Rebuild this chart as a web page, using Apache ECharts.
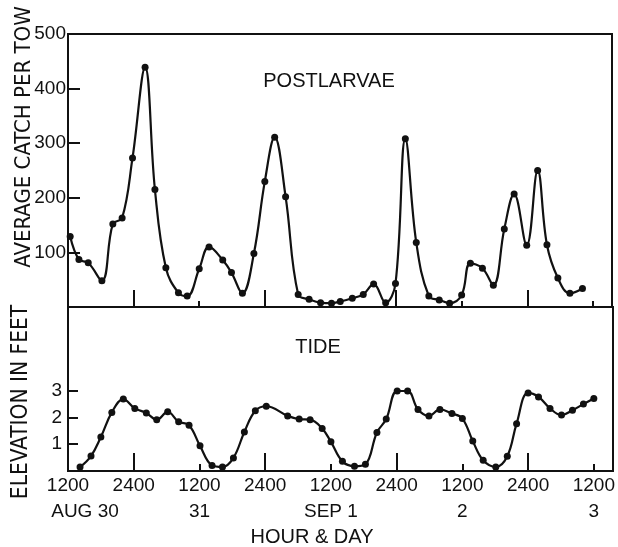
<!DOCTYPE html>
<html>
<head>
<meta charset="utf-8">
<script src="https://cdn.jsdelivr.net/npm/echarts@6/dist/echarts.min.js"></script>
<style>
  html, body { margin: 0; padding: 0; background: #fff; }
  #chart { width: 618px; height: 547px; }
</style>
</head>
<body>
<div id="chart"></div>
<script>
// Hours after 1200 on Aug 30 at which each tow was taken, with its catch
const larvaeHours = [0.4, 2.0, 3.7, 6.2, 8.2, 9.9, 11.8, 14.1, 15.9, 17.9,
  20.2, 21.8, 24.0, 25.8, 28.3, 29.9, 31.9, 34.0, 36.0, 37.8,
  39.8, 42.1, 44.1, 46.2, 48.2, 49.8, 52.0, 54.0, 55.9, 58.1,
  59.9, 61.7, 63.7, 66.0, 67.9, 69.8, 72.0, 73.6, 75.8, 77.8,
  79.8, 81.6, 83.9, 85.9, 87.6, 89.6, 91.8, 94.1];
const larvaeCatch = [129, 87, 81, 48, 152, 163, 273, 439, 215, 72,
  26, 20, 70, 110, 86, 63, 25, 98, 230, 311,
  202, 23, 14, 8, 7, 10, 16, 23, 42, 8,
  43, 308, 118, 20, 13, 7, 22, 80, 71, 40,
  143, 207, 113, 250, 114, 53, 25, 34];

// Tide height readings (feet)
const tideHours = [2.2, 4.2, 6.0, 8.0, 10.1, 12.2, 14.3, 16.2, 18.2, 20.2,
  22.1, 24.1, 26.3, 28.2, 30.2, 32.2, 34.2, 36.2, 40.1, 42.2,
  44.2, 46.4, 48.0, 50.1, 52.3, 54.3, 56.4, 58.1, 60.1, 62.0,
  63.9, 65.9, 67.9, 70.1, 72.0, 73.9, 75.8, 78.1, 80.2, 81.9,
  84.0, 85.9, 88.0, 90.1, 92.1, 94.1, 96.0];
const tideFeet = [0.15, 0.56, 1.27, 2.19, 2.69, 2.34, 2.17, 1.92, 2.21, 1.84,
  1.71, 0.94, 0.21, 0.15, 0.49, 1.46, 2.25, 2.42, 2.06, 1.94,
  1.92, 1.59, 1.09, 0.36, 0.18, 0.25, 1.44, 1.94, 2.99, 2.99,
  2.30, 2.06, 2.30, 2.15, 1.96, 1.12, 0.40, 0.15, 0.55, 1.77,
  2.92, 2.77, 2.34, 2.09, 2.27, 2.50, 2.71];

// Axis ticks and labels
const hourTicks = [0, 12, 24, 36, 48, 60, 72, 84, 96];
const hourLabels = ['1200', '2400', '1200', '2400', '1200', '2400', '1200', '2400', '1200'];
const midnightTicks = [12, 36, 60, 84];
const noonTicks = [24, 48, 72, 96];
const dayTicks = [0, 24, 48, 72, 96];
const dayLabels = ['AUG 30', '31', 'SEP 1', '2', '3'];
const catchTicks = [100, 200, 300, 400, 500];
const tideTicks = [1, 2, 3];

const INK = '#111';
const TICK_FONT = { color: INK, fontFamily: 'Liberation Sans, Arial, sans-serif', fontSize: 19 };
const NARROW = '"Liberation Sans Narrow", "DejaVu Sans Condensed", "Liberation Sans", sans-serif';
const X_MAX = 99.5;

const zip = (xs, ys) => xs.map((x, i) => [x, ys[i]]);

function hourAxis(gridIndex, ticks, len, extra) {
  return Object.assign({
    type: 'value', gridIndex, position: 'bottom', min: 0, max: X_MAX,
    axisLine: { show: false },
    axisTick: { show: true, inside: true, length: len, customValues: ticks,
                lineStyle: { color: INK, width: 2 } },
    axisLabel: { show: false },
    splitLine: { show: false }
  }, extra || {});
}

const chart = echarts.init(document.getElementById('chart'), null, { renderer: 'canvas' });

chart.setOption({
  animation: false,
  backgroundColor: '#fff',
  grid: [
    { left: 68, top: 34, right: 6, height: 273, show: true, borderColor: INK, borderWidth: 2 },
    { left: 68, top: 307, right: 5, height: 164, show: true, borderColor: INK, borderWidth: 2 }
  ],
  xAxis: [
    hourAxis(0, midnightTicks, 17),
    hourAxis(0, noonTicks, 6),
    hourAxis(1, midnightTicks, 18, {
      axisLabel: {
        show: true, margin: 5, customValues: hourTicks,
        formatter: v => hourLabels[hourTicks.indexOf(v)],
        ...TICK_FONT
      }
    }),
    hourAxis(1, noonTicks, 7),
    hourAxis(1, [], 0, {
      offset: 26,
      axisTick: { show: false },
      axisLabel: {
        show: true, margin: 5, customValues: dayTicks,
        formatter: v => {
          const t = dayLabels[dayTicks.indexOf(v)];
          return v === 0 ? '{first|' + t + '}' : t;
        },
        rich: { first: { padding: [0, 0, 0, 34], ...TICK_FONT } },
        ...TICK_FONT
      }
    })
  ],
  yAxis: [
    {
      type: 'value', gridIndex: 0, min: 0, max: 500,
      axisLine: { show: true, lineStyle: { color: INK, width: 2 } },
      axisTick: { show: true, inside: true, length: 12, customValues: catchTicks,
                  lineStyle: { color: INK, width: 2 } },
      axisLabel: { margin: 2, customValues: catchTicks, ...TICK_FONT },
      splitLine: { show: false }
    },
    {
      type: 'value', gridIndex: 1, min: 0, max: 6.13,
      axisLine: { show: true, lineStyle: { color: INK, width: 2 } },
      axisTick: { show: true, inside: true, length: 10, customValues: tideTicks,
                  lineStyle: { color: INK, width: 2 } },
      axisLabel: { margin: 6, customValues: tideTicks, ...TICK_FONT },
      splitLine: { show: false }
    }
  ],
  series: [
    {
      name: 'Postlarvae', type: 'line', xAxisIndex: 0, yAxisIndex: 0,
      data: zip(larvaeHours, larvaeCatch),
      smooth: 0.4, showAllSymbol: true,
      symbol: 'circle', symbolSize: 7,
      itemStyle: { color: INK },
      lineStyle: { color: INK, width: 2.2 }
    },
    {
      name: 'Tide', type: 'line', xAxisIndex: 2, yAxisIndex: 1,
      data: zip(tideHours, tideFeet),
      smooth: 0.4, showAllSymbol: true,
      symbol: 'circle', symbolSize: 7,
      itemStyle: { color: INK },
      lineStyle: { color: INK, width: 2.2 }
    }
  ],
  graphic: [
    { type: 'text', x: 329, y: 81,
      style: { text: 'POSTLARVAE', align: 'center', verticalAlign: 'middle',
               fill: INK, font: '20px "Liberation Sans", Arial, sans-serif' } },
    { type: 'text', x: 318, y: 347,
      style: { text: 'TIDE', align: 'center', verticalAlign: 'middle',
               fill: INK, font: '20px "Liberation Sans", Arial, sans-serif' } },
    { type: 'text', x: 24, y: 137, rotation: Math.PI / 2,
      style: { text: 'AVERAGE CATCH PER TOW', align: 'center', verticalAlign: 'middle',
               fill: INK, font: '22px ' + NARROW } },
    { type: 'text', x: 21, y: 402, rotation: Math.PI / 2,
      style: { text: 'ELEVATION IN FEET', align: 'center', verticalAlign: 'middle',
               fill: INK, font: '22.5px ' + NARROW } },
    { type: 'text', x: 312, y: 537,
      style: { text: 'HOUR & DAY', align: 'center', verticalAlign: 'middle',
               fill: INK, font: '20px "Liberation Sans", Arial, sans-serif' } }
  ]
});
</script>
</body>
</html>
